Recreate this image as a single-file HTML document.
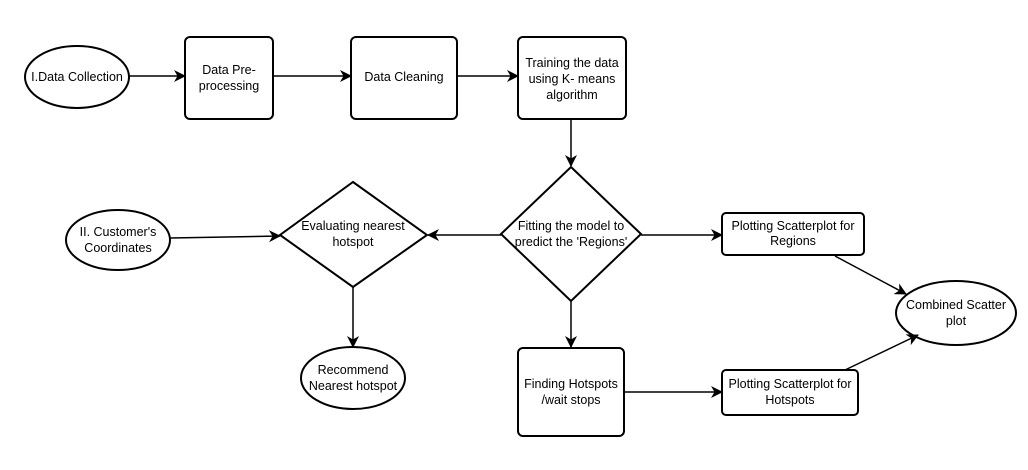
<!DOCTYPE html>
<html><head><style>body{margin:0;background:#fff}svg{display:block}text{font-family:"Liberation Sans",Arial,sans-serif;font-size:12.5px;fill:#000;text-anchor:middle}</style></head>
<body>
<svg width="1028" height="470" viewBox="0 0 1028 470" xmlns="http://www.w3.org/2000/svg">
<defs><marker id="a" markerWidth="12" markerHeight="12" refX="11" refY="6" orient="auto" markerUnits="userSpaceOnUse"><path d="M0,0 L12,6 L0,12 L3.5,6 Z" fill="#000"/></marker></defs>
<g fill="none" stroke="#000" stroke-width="2">
<ellipse cx="77" cy="77" rx="52" ry="31"/>
<rect x="185" y="37" width="88" height="82" rx="5"/>
<rect x="351" y="37" width="106" height="82" rx="5"/>
<rect x="518" y="37" width="108" height="82" rx="5"/>
<polygon points="571,167 641,234 571,301 501,234"/>
<polygon points="353,182 427,235 353,287 280,235"/>
<ellipse cx="118" cy="240" rx="52" ry="30"/>
<ellipse cx="353" cy="378" rx="52" ry="31"/>
<rect x="722" y="213" width="142" height="42" rx="4"/>
<rect x="518" y="348" width="106" height="88" rx="5"/>
<rect x="722" y="370" width="136" height="45" rx="4"/>
<ellipse cx="956" cy="313" rx="60" ry="32"/>
</g>
<g stroke="#000" stroke-width="1.5" marker-end="url(#a)">
<line x1="129" y1="76" x2="185" y2="76"/>
<line x1="273" y1="76" x2="351" y2="76"/>
<line x1="457" y1="76" x2="518" y2="76"/>
<line x1="571" y1="120" x2="571" y2="166"/>
<line x1="501" y1="235" x2="428" y2="235"/>
<line x1="170" y1="238" x2="280" y2="236"/>
<line x1="353" y1="287" x2="353" y2="347"/>
<line x1="641" y1="235" x2="722" y2="235"/>
<line x1="571" y1="301" x2="571" y2="347"/>
<line x1="624" y1="392" x2="722" y2="392"/>
<line x1="835" y1="256" x2="906" y2="294"/>
<line x1="845" y1="370" x2="918" y2="335"/>
</g>
<text x="77" y="81">I.Data Collection</text>
<text x="229" y="74">Data Pre-</text><text x="229" y="90">processing</text>
<text x="404" y="81">Data Cleaning</text>
<text x="572" y="67">Training the data</text><text x="572" y="83">using K- means</text><text x="572" y="99">algorithm</text>
<text x="571" y="230">Fitting the model to</text><text x="571" y="246">predict the 'Regions'</text>
<text x="353" y="230">Evaluating nearest</text><text x="353" y="246">hotspot</text>
<text x="118" y="236">II. Customer's</text><text x="118" y="252">Coordinates</text>
<text x="353" y="374">Recommend</text><text x="353" y="390">Nearest hotspot</text>
<text x="793" y="230">Plotting Scatterplot for</text><text x="793" y="245">Regions</text>
<text x="571" y="388">Finding Hotspots</text><text x="571" y="404">/wait stops</text>
<text x="790" y="388">Plotting Scatterplot for</text><text x="790" y="404">Hotspots</text>
<text x="956" y="309">Combined Scatter</text><text x="956" y="325">plot</text>
</svg>
</body></html>
